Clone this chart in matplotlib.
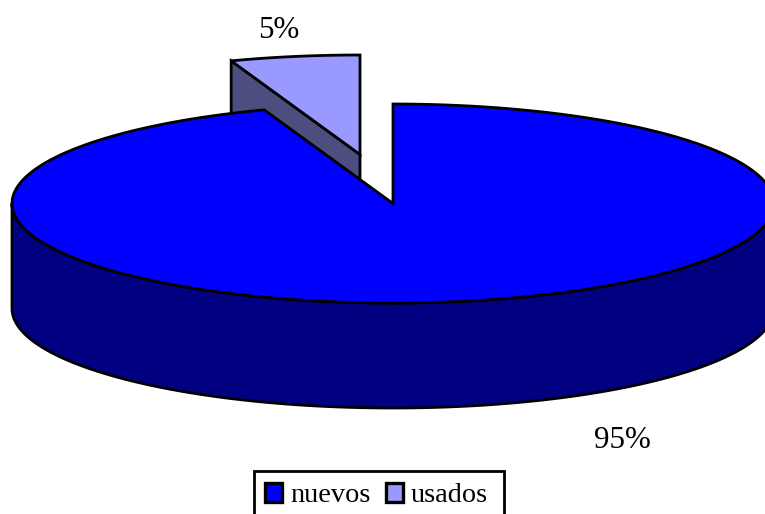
import numpy as np
import matplotlib
matplotlib.use("Agg")
import matplotlib.pyplot as plt
from matplotlib.patches import Polygon, Patch, Rectangle

categories = ["nuevos", "usados"]
values = [94.51, 5.49]
top_colors = ["#0000ff", "#9999ff"]
side_colors = ["#000080", "#4d4d80"]

plt.rcParams["font.family"] = ["Liberation Serif", "DejaVu Serif"]
FS = 20.4
FS_PCT = 22.3
LW = 2.0
CX, CY, RX, RY, DEPTH = 393, 203.5, 381, 99.5, 105
DX, DY = -33, -49

fig = plt.figure(figsize=(7.65, 5.14), dpi=100)
ax = fig.add_axes([0, 0, 1, 1])
ax.set_xlim(0, 765)
ax.set_ylim(514, 0)
ax.axis("off")


def rim(a0, a1, dx=0, dy=0, n=200):
    t = np.radians(np.linspace(a0, a1, n))
    return np.column_stack([CX + dx + RX * np.sin(t), CY + dy - RY * np.cos(t)])


def poly(pts, fc, z):
    ax.add_patch(Polygon(pts, closed=True, fc=fc, ec="black", lw=LW,
                         joinstyle="miter", zorder=z))


main_end = 360 * values[0] / sum(values)

# Exploded slice (usados): cut face behind, then top
left = rim(main_end, main_end, DX, DY, 1)[0]
apex = np.array([CX + DX, CY + DY])
poly([left, apex, apex + [0, DEPTH], left + [0, DEPTH]], side_colors[1], 1)
poly(np.vstack([[apex], rim(main_end, 360, DX, DY)]), top_colors[1], 2)

# Main slice (nuevos): outer wall, then top
front = rim(90, 270)
poly(np.vstack([front, (front + [0, DEPTH])[::-1]]), side_colors[0], 3)
poly(np.vstack([[[CX, CY]], rim(0, main_end)]), top_colors[0], 4)

# Percentage labels
label_xy = [(622.5, 440), (279, 30)]
for v, (x, y) in zip(values, label_xy):
    ax.text(x, y, f"{v:.0f}%", fontsize=FS_PCT, ha="center", va="center", color="black")

# Legend: frame runs past the bottom of the figure, as in the reference
ax.add_patch(Rectangle((254, 470.5), 250, 60, fc="white", ec="black", lw=LW, zorder=5))
handles = [Patch(fc=c, ec="black", lw=LW + 0.4) for c in top_colors]
leg = ax.legend(handles, categories, loc="upper left", bbox_to_anchor=(265, 483),
                bbox_transform=ax.transData, ncol=2, fontsize=FS, frameon=False,
                borderaxespad=0, borderpad=0,
                handlelength=0.6, handleheight=0.64, handletextpad=0.28,
                columnspacing=0.55)
leg.set_zorder(6)

fig.savefig("out.png", dpi=100)
